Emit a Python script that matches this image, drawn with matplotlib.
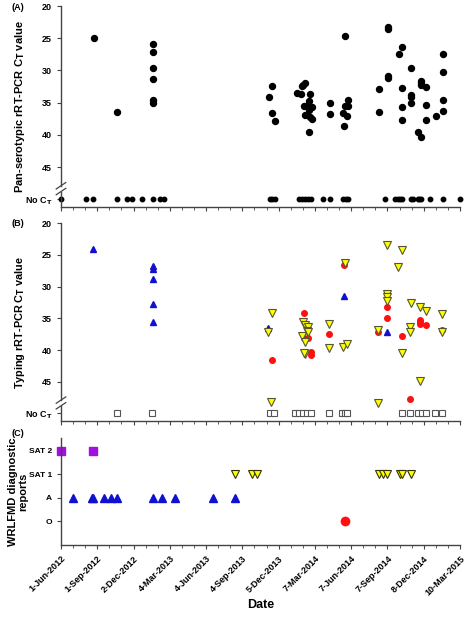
import matplotlib
matplotlib.use('Agg')
from matplotlib import pyplot as plt
from matplotlib.ticker import MultipleLocator, FixedLocator

plt.rcParams['font.family'] = ['Liberation Sans', 'DejaVu Sans']
plt.rcParams['font.weight'] = 'bold'

# x values are days since 1-Jun-2012
tick_days = [0, 92, 184, 276, 368, 460, 552, 644, 736, 828, 920, 1012]
tick_labels = ['1-Jun-2012', '1-Sep-2012', '2-Dec-2012', '4-Mar-2013', '4-Jun-2013',
               '4-Sep-2013', '5-Dec-2013', '7-Mar-2014', '7-Jun-2014', '7-Sep-2014',
               '8-Dec-2014', '10-Mar-2015']
NO_CT = 50

# Panel A: pan-serotypic rRT-PCR
panA_days = [84, 234, 234, 234, 234, 234, 234, 143,
             527, 536, 534, 543, 598, 608, 610, 614, 619, 631, 630, 616, 625, 636, 619, 630,
             631, 636, 629, 682, 682, 720, 727, 720, 729, 716, 725, 718,
             829, 829, 866, 858, 968, 888, 968, 829, 829, 806, 866, 912, 912, 912, 927, 887,
             887, 887, 968, 927, 866, 806, 968, 950, 927, 866, 906, 912]
panA_ct = [25.0, 25.9, 27.1, 29.7, 31.4, 34.6, 35.0, 36.5,
           34.2, 32.4, 36.6, 37.9, 33.5, 33.7, 32.4, 32.2, 32.0, 33.7, 34.7, 35.5, 35.5, 35.6, 36.9, 36.1,
           37.3, 37.6, 39.6, 35.1, 36.7, 24.6, 34.6, 35.5, 35.5, 36.6, 37.1, 38.6,
           23.3, 23.6, 26.4, 27.4, 27.4, 29.7, 30.2, 30.9, 31.1, 32.9, 32.8, 31.6, 32.0, 32.2, 32.6, 33.8,
           34.1, 35.1, 34.6, 35.4, 35.6, 36.4, 36.3, 37.0, 37.7, 37.7, 39.5, 40.3]
panA_noct = [0, 63, 82, 143, 167, 179, 206, 234, 251, 262,
             530, 536, 543, 604, 612, 619, 626, 633, 665, 682, 716, 723, 729,
             823, 847, 854, 860, 866, 887, 894, 905, 909, 913, 936, 968, 1012]

# Panel B: typing rRT-PCR
typA_days = [82, 234, 234, 234, 234, 234, 526, 718, 828]
typA_ct = [24.1, 26.7, 27.2, 28.8, 32.8, 35.6, 36.6, 31.4, 37.1]
typO_days = [534, 617, 617, 627, 633, 633, 681, 718,
             828, 828, 805, 910, 910, 910, 927, 864, 967, 885]
typO_ct = [41.5, 34.2, 38.1, 38.1, 40.3, 40.8, 37.4, 26.6,
           33.2, 35.0, 37.2, 35.2, 35.6, 35.9, 36.1, 37.8, 36.9, 47.8]
typSAT1_days = [534, 526, 533, 613, 619, 627, 623, 627, 610, 620, 619, 617, 681, 681, 716, 726, 720,
                828, 864, 855, 828, 828, 828, 887, 910, 927, 967, 805, 885, 885, 967, 864, 910, 805]
typSAT1_ct = [34.2, 37.1, 48.2, 35.5, 36.1, 36.3, 37.0, 37.2, 37.8, 38.7, 40.7, 40.5, 35.9, 39.7, 39.6, 39.1, 26.3,
              23.5, 24.2, 26.9, 31.1, 31.6, 32.3, 32.5, 33.2, 33.9, 34.3, 36.9, 36.3, 37.1, 37.2, 40.5, 44.9, 48.3]
typ_noct = [141, 232, 530, 540, 593, 604, 614, 625, 633, 681, 713, 720, 726,
            864, 885, 906, 915, 927, 948, 967]

# Panel C: WRLFMD diagnostic reports (O=0, A=1, SAT 1=2, SAT 2=3)
rep_labels = ['O', 'A', 'SAT 1', 'SAT 2']
repSAT2_days = [0, 82]
repA_days = [31, 78, 82, 110, 128, 141, 234, 257, 289, 386, 441]
repSAT1_days = [441, 484, 496, 807, 817, 828, 860, 866, 887]
repO_days = [721]

W, H = 474, 618
fig = plt.figure(figsize=(W / 100, H / 100), dpi=100)


def make_ax(top, bottom):
    return fig.add_axes([61 / W, 1 - bottom / H, 399 / W, (bottom - top) / H])


axA = make_ax(6, 207)
axB = make_ax(223.3, 421)
axC = make_ax(438, 545)

kw = dict(linestyle='none', clip_on=False)
axA.plot(panA_days, panA_ct, 'o', color='black', markersize=4.3, **kw)
axA.plot(panA_noct, [NO_CT] * len(panA_noct), 'o', color='black', markersize=3.2, **kw)

axB.plot(typ_noct, [NO_CT] * len(typ_noct), 's', mfc='white', mec='#555555', mew=0.8,
         markersize=4.2, **kw)
axB.plot(typA_days, typA_ct, '^', color='#1010d0', markersize=4.5, **kw)
axB.plot(typO_days, typO_ct, 'o', color='#ff1010', markersize=4, **kw)
axB.plot(typSAT1_days, typSAT1_ct, 'v', mfc='#ffff00', mec='#555533', mew=0.8,
         markersize=6, **kw)

axC.plot(repSAT2_days, [3] * len(repSAT2_days), 's', color='#a010e0', markersize=5.5, **kw)
axC.plot(repA_days, [1] * len(repA_days), '^', color='#1010d0', markersize=5.5, **kw)
axC.plot(repSAT1_days, [2] * len(repSAT1_days), 'v', mfc='#ffff00', mec='#333300', mew=0.8,
         markersize=6, **kw)
axC.plot(repO_days, [0] * len(repO_days), 'o', color='#ff1010', markersize=6, **kw)

for ax in (axA, axB, axC):
    ax.set_xlim(0, 1012)
    ax.spines['top'].set_visible(False)
    ax.spines['right'].set_visible(False)
    for s in ('left', 'bottom'):
        ax.spines[s].set_color('#444444')
        ax.spines[s].set_linewidth(1.0)
    ax.xaxis.set_major_locator(FixedLocator(tick_days))
    ax.xaxis.set_minor_locator(MultipleLocator(92 / 3))
    ax.tick_params(axis='both', which='major', labelsize=6.5, length=3, width=0.8, color='#444444')
    ax.tick_params(axis='x', which='minor', length=2, width=0.6, color='#444444')

for ax in (axA, axB):
    ax.set_ylim(51.2, 20)
    ax.set_yticks([20, 25, 30, 35, 40, 45, NO_CT])
    ax.set_yticklabels(['20', '25', '30', '35', '40', '45', 'No C$_\\mathbf{T}$'])
    ax.set_xticklabels([])
    # broken y axis
    ax.spines['left'].set_bounds(20, 47.9)
    tr = ax.get_yaxis_transform()
    ax.plot([0, 0], [48.8, 51.2], color='#444444', lw=1.0, transform=tr, clip_on=False)
    for yb in (47.9, 48.8):
        ax.plot([-0.012, 0.012], [yb + 0.5, yb - 0.5], color='#444444', lw=0.9,
                transform=tr, clip_on=False)

axC.set_ylim(-1, 3.55)
axC.set_yticks([0, 1, 2, 3])
axC.set_yticklabels(rep_labels)
axC.tick_params(axis='y', labelsize=6)
axC.set_xticklabels(tick_labels, rotation=45, ha='right', rotation_mode='anchor', fontsize=6.5)
axC.set_xlabel('Date', fontsize=9, fontweight='bold', labelpad=1)

axA.set_ylabel('Pan-serotypic rRT-PCR C$_\\mathbf{T}$ value', fontsize=8, fontweight='bold')
axB.set_ylabel('Typing rRT-PCR C$_\\mathbf{T}$ value', fontsize=7.8, fontweight='bold')
axC.set_ylabel('WRLFMD diagnostic\nreports', fontsize=8, fontweight='bold',
               linespacing=1.0)
axA.yaxis.set_label_coords(-0.085, 0.5)
axB.yaxis.set_label_coords(-0.085, 0.5)
axC.yaxis.set_label_coords(-0.082, 0.5)

fig.text(12 / W, 1 - 7 / H, '(A)', fontsize=6.5, fontweight='bold', va='center')
fig.text(12 / W, 1 - 224 / H, '(B)', fontsize=6.5, fontweight='bold', va='center')
fig.text(12 / W, 1 - 433 / H, '(C)', fontsize=6.5, fontweight='bold', va='center')

fig.savefig('out.png', dpi=100)
